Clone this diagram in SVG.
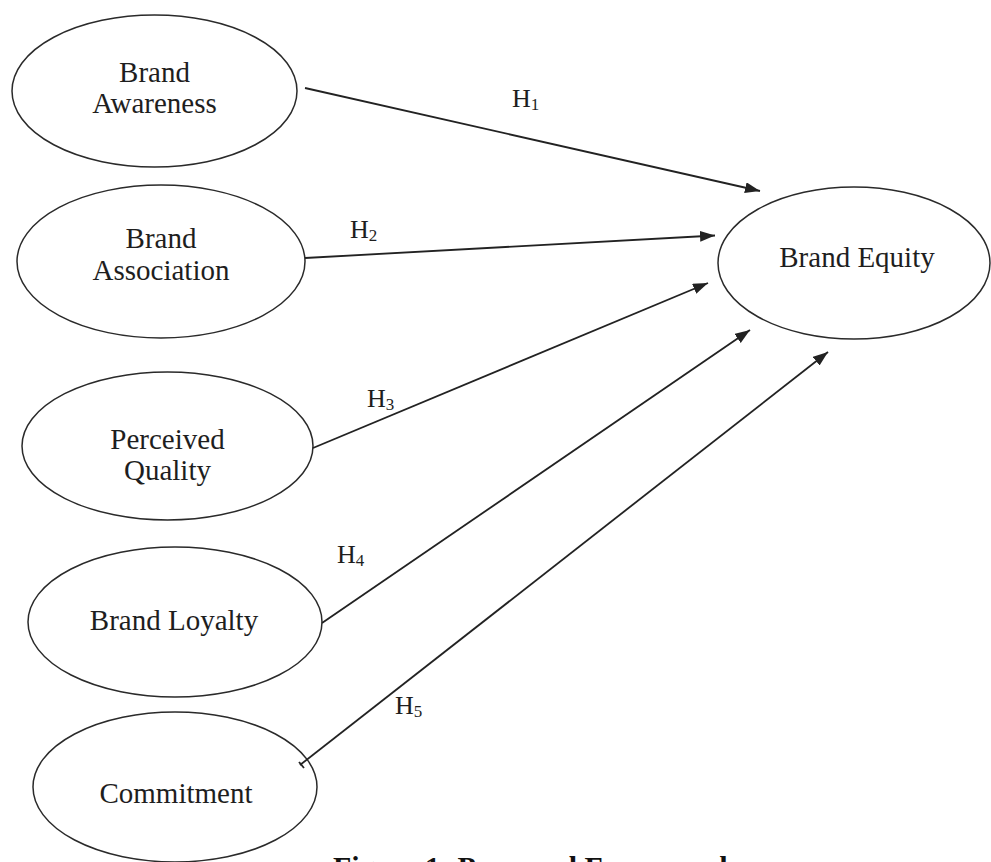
<svg xmlns="http://www.w3.org/2000/svg" width="991" height="862" viewBox="0 0 991 862">
<style>
.node ellipse{fill:#fff;stroke:#2a2a2a;stroke-width:1.5}
.lbl{font-family:"Liberation Serif","Times New Roman",serif;font-size:29px;fill:#1e1e1e;text-anchor:middle}
.h{font-family:"Liberation Serif","Times New Roman",serif;font-size:26px;fill:#1e1e1e}
.sub{font-size:17px}
.conn line{stroke:#222;stroke-width:1.8;fill:none}
.cap{font-family:"Liberation Serif","Times New Roman",serif;font-size:30px;font-weight:bold;fill:#111}
</style>
<defs>
<marker id="arr" markerUnits="userSpaceOnUse" markerWidth="17" markerHeight="12" refX="15" refY="5.5" orient="auto">
<path d="M0,0 L15,5.5 L0,11 z" fill="#222"/>
</marker>
</defs>
<rect width="991" height="862" fill="#fff"/>
<g id="brand-awareness" class="node">
<ellipse cx="154.5" cy="91" rx="142.5" ry="76"/>
<text class="lbl" x="154.5" y="82">Brand</text>
<text class="lbl" x="154.5" y="113">Awareness</text>
</g>
<g id="brand-association" class="node">
<ellipse cx="161" cy="261.5" rx="144" ry="76.5"/>
<text class="lbl" x="161" y="248">Brand</text>
<text class="lbl" x="161" y="280">Association</text>
</g>
<g id="perceived-quality" class="node">
<ellipse cx="167.5" cy="446" rx="145.5" ry="74"/>
<text class="lbl" x="167.5" y="449">Perceived</text>
<text class="lbl" x="167.5" y="480">Quality</text>
</g>
<g id="brand-loyalty" class="node">
<ellipse cx="175" cy="622" rx="147" ry="75"/>
<text class="lbl" x="174" y="630">Brand Loyalty</text>
</g>
<g id="commitment" class="node">
<ellipse cx="175" cy="787" rx="142" ry="75"/>
<text class="lbl" x="176" y="803">Commitment</text>
</g>
<g id="brand-equity" class="node">
<ellipse cx="854" cy="263" rx="136" ry="76"/>
<text class="lbl" x="857" y="267">Brand Equity</text>
</g>
<g id="connectors" class="conn">
<line x1="305" y1="88" x2="760" y2="191" marker-end="url(#arr)"/>
<line x1="305" y1="258" x2="715" y2="235.5" marker-end="url(#arr)"/>
<line x1="313" y1="448" x2="708" y2="283" marker-end="url(#arr)"/>
<line x1="322" y1="623" x2="750" y2="330" marker-end="url(#arr)"/>
<line x1="300" y1="765" x2="828" y2="352" marker-end="url(#arr)"/>
<line x1="299" y1="762" x2="304" y2="768"/>
</g>
<g id="labels">
<text class="h" x="512" y="107">H<tspan class="sub" dy="3">1</tspan></text>
<text class="h" x="350" y="238">H<tspan class="sub" dy="3">2</tspan></text>
<text class="h" x="367" y="407">H<tspan class="sub" dy="3">3</tspan></text>
<text class="h" x="337" y="563">H<tspan class="sub" dy="3">4</tspan></text>
<text class="h" x="395" y="714">H<tspan class="sub" dy="3">5</tspan></text>
</g>
<text class="cap" x="333" y="877">Figure 1: Proposed Framework</text>
</svg>
